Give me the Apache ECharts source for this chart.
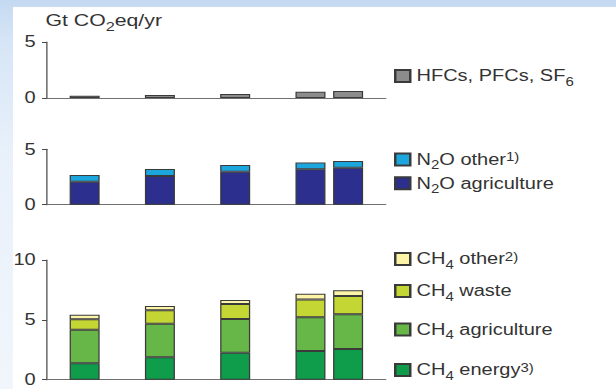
<!DOCTYPE html>
<html>
<head>
<meta charset="utf-8">
<script src="https://cdn.jsdelivr.net/npm/echarts@6/dist/echarts.min.js"></script>
<style>
  html, body { margin: 0; padding: 0; width: 616px; height: 389px; overflow: hidden; }
  body {
    position: relative;
    background: linear-gradient(to bottom, #c4d9f1 0px, #d6e5f6 40px, #e8f0fa 150px, #f1f6fc 389px);
  }
  #sheet { position: absolute; left: 13px; top: 7px; right: 0; bottom: 0; background: #ffffff; }
  /* the figure is drawn narrow and widened horizontally */
  #chart { position: absolute; left: 0; top: 0; width: 492.8px; height: 389px;
           transform: scaleX(1.25); transform-origin: 0 0; }
</style>
</head>
<body>
<div id="sheet"></div>
<div id="chart"></div>
<script>
// Emission years shown as bars
const years = ['1970', '1980', '1990', '2000', '2005'];

// Gt CO2eq/yr per source
const fGases         = [0.20, 0.27, 0.36, 0.56, 0.62];
const n2oAgriculture = [2.08, 2.59, 2.98, 3.20, 3.34];
const n2oOther       = [0.60, 0.63, 0.60, 0.60, 0.61];
const ch4Energy      = [1.37, 1.87, 2.26, 2.40, 2.56];
const ch4Agriculture = [2.81, 2.81, 2.81, 2.81, 2.90];
const ch4Waste       = [0.87, 1.12, 1.25, 1.50, 1.53];
const ch4Other       = [0.38, 0.36, 0.34, 0.47, 0.48];

// Value-axis extent and tick step of the three panels
const panelMax = [5, 5, 10];
const tickStep = 5;

// Horizontal axis: one slot per calendar year, first to last
const firstYear = 1965, lastYear = 2010;
const axisYears = [];
for (let y = firstYear; y <= lastYear; y++) axisYears.push(String(y));

const unitLabel = '{t|Gt CO}{sub|2}{t|eq/yr}';
const legendLabels = {
  'HFCs, PFCs, SF6': '{t|HFCs, PFCs, SF}{sub|6}',
  'N2O other': '{t|N}{sub|2}{t|O other}{sup|1)}',
  'N2O agriculture': '{t|N}{sub|2}{t|O agriculture}',
  'CH4 other': '{t|CH}{sub|4}{t| other}{sup|2)}',
  'CH4 waste': '{t|CH}{sub|4}{t| waste}',
  'CH4 agriculture': '{t|CH}{sub|4}{t| agriculture}',
  'CH4 energy': '{t|CH}{sub|4}{t| energy}{sup|3)}'
};

const FONT = '"Liberation Sans", Arial, Helvetica, sans-serif';
const INK = '#333333';
function richSet(size) {
  const small = Math.round(size * 0.75);
  return {
    t:   { fontFamily: FONT, fontSize: size, fontWeight: 'normal', lineHeight: size, color: INK, verticalAlign: 'middle' },
    sub: { fontFamily: FONT, fontSize: small, fontWeight: 'normal', lineHeight: small, color: INK, verticalAlign: 'middle', padding: [12, 0, 0, 0] },
    sup: { fontFamily: FONT, fontSize: small, fontWeight: 'normal', lineHeight: small, color: INK, verticalAlign: 'middle', padding: [0, 0, 4, 0] }
  };
}
const legendRich = richSet(16);
const titleRich = richSet(17);

const gridBox = [
  { top: 42,    height: 56 },
  { top: 149.3, height: 55.4 },
  { top: 260,   height: 119.7 }
];

function pairs(vals) { return years.map((y, i) => [y, vals[i]]); }

function barSeries(name, panel, vals, color) {
  return {
    name: name, type: 'bar', stack: 'panel' + panel,
    xAxisIndex: panel, yAxisIndex: panel,
    barWidth: 24,
    data: pairs(vals),
    itemStyle: { color: color, borderColor: '#3a3a3a', borderWidth: 1 },
    emphasis: { disabled: true }
  };
}

function legendAt(name, top) {
  return {
    data: [name], left: 315.2, top: top, padding: 0,
    orient: 'vertical', icon: 'rect', itemWidth: 12, itemHeight: 12,
    selectedMode: false,
    formatter: n => legendLabels[n],
    textStyle: { color: INK, fontWeight: 'normal', rich: legendRich }
  };
}

const chart = echarts.init(document.getElementById('chart'), null, { renderer: 'svg' });
chart.setOption({
  animation: false,
  title: {
    text: unitLabel, left: 36.4, top: 12, padding: 0,
    textStyle: { fontWeight: 'normal', fontSize: 17, color: INK, rich: titleRich }
  },
  grid: gridBox.map(g => ({ left: 37.6, width: 271, top: g.top, height: g.height })),
  xAxis: gridBox.map((g, i) => ({
    gridIndex: i, type: 'category', data: axisYears, boundaryGap: false,
    axisLine: { show: true, onZero: false, lineStyle: { color: '#707070', width: 1 } },
    axisTick: { show: false }, axisLabel: { show: false }, splitLine: { show: false }
  })),
  yAxis: panelMax.map((m, i) => ({
    gridIndex: i, type: 'value', min: 0, max: m, interval: tickStep,
    axisLine: { show: true, lineStyle: { color: '#4a4a4a', width: 1 } },
    axisTick: { show: true, length: 4, lineStyle: { color: '#4a4a4a' } },
    axisLabel: { fontFamily: FONT, fontSize: 16, color: INK, margin: 9 },
    splitLine: { show: false }
  })),
  legend: [
    legendAt('HFCs, PFCs, SF6', 64),
    legendAt('N2O other', 147.5),
    legendAt('N2O agriculture', 171.3),
    legendAt('CH4 other', 247),
    legendAt('CH4 waste', 279),
    legendAt('CH4 agriculture', 317.5),
    legendAt('CH4 energy', 358)
  ],
  series: [
    barSeries('HFCs, PFCs, SF6', 0, fGases, '#8c8c8c'),
    barSeries('N2O agriculture', 1, n2oAgriculture, '#2c2f8e'),
    barSeries('N2O other', 1, n2oOther, '#1ca6de'),
    barSeries('CH4 energy', 2, ch4Energy, '#0f9d4b'),
    barSeries('CH4 agriculture', 2, ch4Agriculture, '#66b648'),
    barSeries('CH4 waste', 2, ch4Waste, '#c4d634'),
    barSeries('CH4 other', 2, ch4Other, '#fcf4a6')
  ]
});
</script>
</body>
</html>
